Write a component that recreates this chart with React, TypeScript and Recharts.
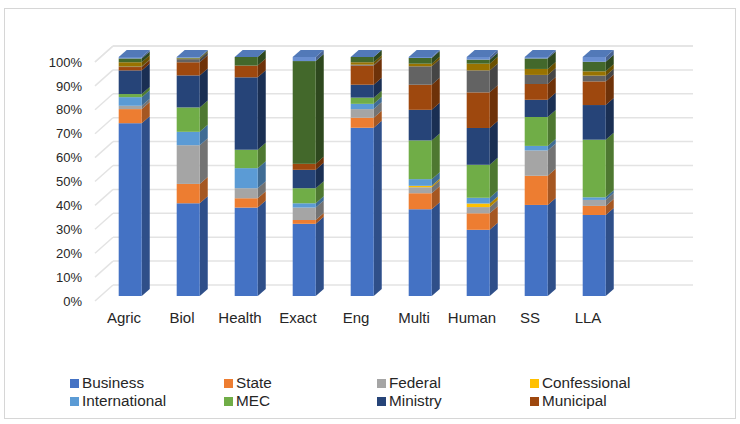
import { BarChart, Bar, XAxis, YAxis, CartesianGrid } from 'recharts'

// the tenth slot is blank in the original, it only reserves room on the right
const categories = ['Agric', 'Biol', 'Health', 'Exact', 'Eng', 'Multi', 'Human', 'SS', 'LLA', '']
const percentTicks = [0, 10, 20, 30, 40, 50, 60, 70, 80, 90, 100]

const business = [72.3, 38.8, 37, 30.2, 70.4, 36.3, 27.7, 38.1, 33.9]
const state = [5.9, 8.1, 3.9, 1.6, 4.2, 6.7, 6.9, 12.2, 3.8]
const federal = [1.4, 16.2, 4.2, 5.2, 3.6, 2.5, 2.6, 10.6, 2.5]
const confessional = [0, 0, 0, 0, 0, 0.6, 1.5, 0, 0]
const international = [3.6, 5.6, 8.4, 1.8, 2.2, 2.8, 2.4, 1.9, 1.1]
const mec = [1.3, 10.2, 7.7, 6.3, 2.6, 16.2, 13.8, 12.1, 24.1]
const ministry = [9.9, 13.4, 30.3, 7.7, 5.4, 12.8, 15.4, 7.2, 14.5]
const municipal = [1.4, 5.5, 4.9, 2.5, 8, 10.5, 14.9, 6.6, 9.9]
const other1 = [0.2, 1.3, 0, 0, 0.4, 7.7, 9.2, 3.8, 2.4]
const other2 = [1.8, 0.3, 0, 0, 1, 1.1, 2.8, 2.5, 1.8]
const other3 = [1.6, 0.3, 3.6, 43, 2.2, 2.4, 1.7, 4.4, 4]
const other4 = [0.6, 0.3, 0, 1.7, 0, 0.4, 1.1, 0.6, 2]

const series = [
  { name: 'Business', values: business, color: '#4472C4' },
  { name: 'State', values: state, color: '#ED7D31' },
  { name: 'Federal', values: federal, color: '#A5A5A5' },
  { name: 'Confessional', values: confessional, color: '#FFC000' },
  { name: 'International', values: international, color: '#5B9BD5' },
  { name: 'MEC', values: mec, color: '#70AD47' },
  { name: 'Ministry', values: ministry, color: '#264478' },
  { name: 'Municipal', values: municipal, color: '#9E480E' },
  { name: 'Other 1', values: other1, color: '#636363', hidden: true },
  { name: 'Other 2', values: other2, color: '#997300', hidden: true },
  { name: 'Other 3', values: other3, color: '#43682B', hidden: true },
  { name: 'Other 4', values: other4, color: '#698ED0', hidden: true },
]

const data = categories.map((name, i) => {
  const row: any = { name }
  series.forEach((s) => {
    row[s.name] = s.values[i] ?? 0
  })
  return row
})

// fake 3D: bars sit half way into the floor, the walls at full depth
const BAR_DX = 5.7
const BAR_DY = 5
const DEPTH_X = 8
const DEPTH_Y = 7
const WALL_DX = 18
const WALL_DY = 16

function Bar3D(props: any) {
  const { x, y, width, height, fill, payload, isTop } = props
  if (!payload || payload.name === '') return null
  const fx = x + BAR_DX
  const fy = y - BAR_DY
  const h = height
  return (
    <g>
      {h > 0 && (
        <>
          <polygon
            points={`${fx + width},${fy} ${fx + width + DEPTH_X},${fy - DEPTH_Y} ${fx + width + DEPTH_X},${fy + h - DEPTH_Y} ${fx + width},${fy + h}`}
            fill={fill}
          />
          <polygon
            points={`${fx + width},${fy} ${fx + width + DEPTH_X},${fy - DEPTH_Y} ${fx + width + DEPTH_X},${fy + h - DEPTH_Y} ${fx + width},${fy + h}`}
            fill="#000"
            fillOpacity={0.3}
          />
          <rect x={fx} y={fy} width={width} height={h} fill={fill} />
        </>
      )}
      {isTop && (
        <polygon
          points={`${fx},${fy} ${fx + width},${fy} ${fx + width + DEPTH_X},${fy - DEPTH_Y} ${fx + DEPTH_X},${fy - DEPTH_Y}`}
          fill="#5279B8"
        />
      )}
    </g>
  )
}

function WallLine(props: any) {
  const { x1, x2, y1, index } = props
  return (
    <g key={`wall-${index}`} stroke="#E3E3E3" strokeWidth={1.5} fill="none">
      <line x1={x1} y1={y1} x2={x1 + WALL_DX} y2={y1 - WALL_DY} />
      <line x1={x1 + WALL_DX} y1={y1 - WALL_DY} x2={x2 + WALL_DX} y2={y1 - WALL_DY} />
    </g>
  )
}

const LEGEND_COLS = [70, 224, 377, 530]

function LegendRows() {
  return (
    <>
      {series
        .filter((s) => !s.hidden)
        .map((s, i) => (
          <div
            key={s.name}
            style={{
              position: 'absolute',
              left: LEGEND_COLS[i % 4],
              top: i < 4 ? 374 : 392,
              height: 18,
              lineHeight: '18px',
              fontSize: 15.3,
              color: '#262626',
              whiteSpace: 'nowrap',
            }}
          >
            <span
              style={{
                display: 'inline-block',
                width: 9,
                height: 9,
                marginRight: 3,
                background: s.color,
              }}
            />
            {s.name}
          </div>
        ))}
    </>
  )
}

export default function App() {
  return (
    <div
      style={{
        position: 'absolute',
        left: 0,
        top: 0,
        width: 740,
        height: 424,
        background: '#fff',
        fontFamily: '"Liberation Sans", Arial, sans-serif',
      }}
    >
      <div
        style={{
          position: 'absolute',
          left: 4,
          top: 8,
          width: 730,
          height: 409,
          border: '1px solid #D6D6D6',
        }}
      />
      <BarChart
        width={740}
        height={424}
        data={data}
        barSize={23}
        margin={{ top: 62, right: 65, bottom: 93, left: 45 }}
        style={{ position: 'absolute', left: 0, top: 0 }}
      >
        <CartesianGrid vertical={false} horizontal={(p: any) => <WallLine {...p} />} />
        <XAxis
          dataKey="name"
          height={30}
          axisLine={false}
          tickLine={false}
          tickSize={0}
          tickMargin={11}
          interval={0}
          tick={{ fontSize: 15, fill: '#262626' }}
        />
        <YAxis
          width={50}
          domain={[0, 100]}
          ticks={percentTicks}
          interval={0}
          axisLine={false}
          tickLine={false}
          tickSize={0}
          tickMargin={13}
          tickFormatter={(v: number) => `${v}%`}
          tick={{ fontSize: 13, fill: '#262626' }}
        />
        {series.map((s, i) => (
          <Bar
            key={s.name}
            dataKey={s.name}
            stackId="a"
            fill={s.color}
            isAnimationActive={false}
            shape={(p: any) => <Bar3D {...p} isTop={i === series.length - 1} />}
          />
        ))}
      </BarChart>
      <LegendRows />
    </div>
  )
}
